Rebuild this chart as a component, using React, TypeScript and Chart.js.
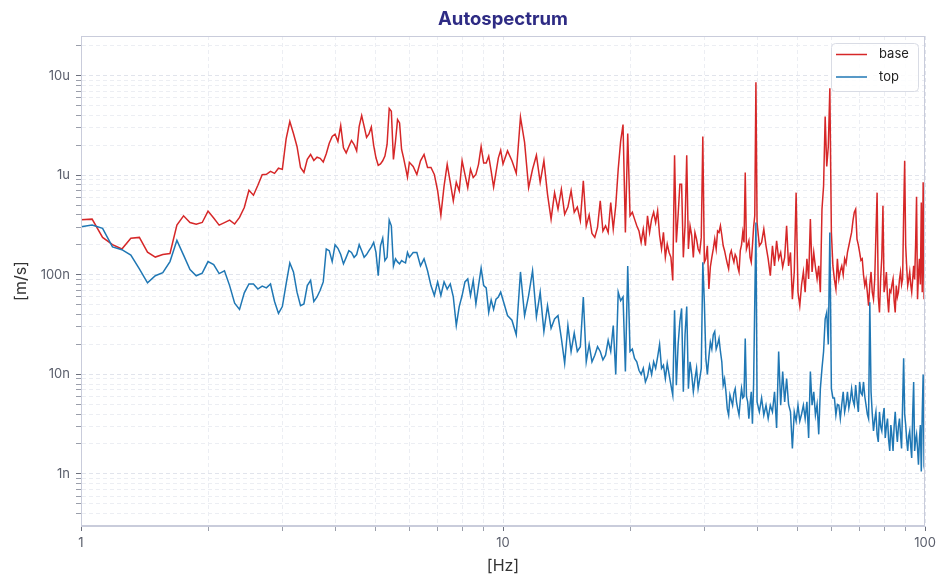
import { useEffect, useRef } from 'react'
import { Chart, registerables } from 'chart.js'

Chart.register(...registerables)

// frequency bins [Hz]
const FREQ = [
  1, 1.0625, 1.125, 1.1875, 1.25, 1.3125, 1.375, 1.4375, 1.5, 1.5625,
  1.625, 1.6875, 1.75, 1.8125, 1.875, 1.9375, 2, 2.0625, 2.125, 2.1875,
  2.25, 2.3125, 2.375, 2.4375, 2.5, 2.5625, 2.625, 2.6875, 2.75, 2.8125,
  2.875, 2.9375, 3, 3.0625, 3.125, 3.1875, 3.25, 3.3125,
  3.375, 3.4375, 3.5, 3.5625, 3.625, 3.6875, 3.75, 3.8125, 3.875, 3.9375,
  4, 4.0625, 4.125, 4.1875, 4.25, 4.3125, 4.375, 4.4375, 4.5, 4.5625,
  4.625, 4.6875, 4.75, 4.8125, 4.875, 4.9375, 5, 5.0625, 5.125, 5.1875,
  5.25, 5.3125, 5.375, 5.4375, 5.5, 5.5625, 5.625, 5.6875, 5.75, 5.8125,
  5.875, 5.9375, 6,
  6.125, 6.25, 6.375, 6.5, 6.625, 6.75, 6.875, 7, 7.125, 7.25,
  7.375, 7.5, 7.625, 7.75, 7.875, 8, 8.125, 8.25, 8.375, 8.5,
  8.625, 8.75, 8.875, 9, 9.125, 9.25, 9.375, 9.5, 9.625, 9.75,
  9.875, 10,
  10.25, 10.5, 10.75, 11, 11.25, 11.5, 11.75, 12, 12.25, 12.5,
  12.75, 13, 13.25, 13.5, 13.75, 14, 14.25, 14.5, 14.75, 15,
  15.25, 15.5, 15.75, 16, 16.25, 16.5, 16.75, 17, 17.25, 17.5,
  17.75, 18, 18.25, 18.5, 18.75, 19, 19.25, 19.5, 19.75, 20,
  20.25, 20.5, 20.75, 21, 21.25, 21.5, 21.75, 22, 22.25, 22.5,
  22.75, 23, 23.25, 23.5, 23.75, 24, 24.25, 24.5, 24.75, 25,
  25.25, 25.5, 25.75, 26, 26.25, 26.5, 26.75, 27, 27.25, 27.5,
  27.75, 28, 28.25, 28.5, 28.75, 29, 29.25, 29.5, 29.75, 30,
  30.25, 30.5, 30.75, 31, 31.25, 31.5, 31.75, 32, 32.25, 32.5,
  32.75, 33, 33.25, 33.5, 33.75, 34, 34.25, 34.5, 34.75, 35,
  35.25, 35.5, 35.75, 36, 36.25, 36.5, 36.75, 37, 37.25, 37.5,
  37.75, 38, 38.25, 38.5, 38.75, 39, 39.25, 39.5, 39.75, 40,
  40.5, 41, 41.5, 42, 42.5, 43, 43.5, 44, 44.5, 45,
  45.5, 46, 46.5, 47, 47.5, 48, 48.5, 49, 49.5, 50,
  50.5, 51, 51.5, 52, 52.5, 53, 53.5, 54, 54.5, 55,
  55.5, 56, 56.5, 57, 57.5, 58, 58.5, 59, 59.5, 60,
  60.5, 61, 61.5, 62, 62.5, 63, 63.5, 64, 64.5, 65,
  65.5, 66, 66.5, 67, 67.5, 68, 68.5, 69, 69.5, 70,
  70.5, 71, 71.5, 72, 72.5, 73, 73.5, 74, 74.5, 75,
  75.5, 76, 76.5, 77, 77.5, 78, 78.5, 79, 79.5, 80,
  80.5, 81, 81.5, 82, 82.5, 83, 83.5, 84, 84.5, 85,
  85.5, 86, 86.5, 87, 87.5, 88, 88.5, 89, 89.5, 90,
  90.5, 91, 91.5, 92, 92.5, 93, 93.5, 94, 94.5, 95,
  95.5, 96, 96.5, 97, 97.5, 98, 98.5, 99, 99.5, 100,
]

// amplitude in nm/s (1000 = 1u)
const BASE = [
  357, 363, 238, 201, 182, 233, 238, 169, 151, 160,
  164, 316, 392, 336, 322, 336, 437, 372, 316, 335,
  355, 324, 378, 475, 708, 631, 794, 1016, 1023, 1096,
  1047, 1180, 1148, 2328, 3467, 2630, 1950, 1200,
  1070, 1445, 1620, 1410, 1520, 1480, 1360, 1650, 2100, 2460,
  2590, 2190, 3160, 1890, 1680, 1950, 2240, 2040, 1760, 3110,
  3980, 3100, 2400, 2600, 3060, 2000, 1500, 1260, 1300, 1400,
  1560, 2040, 4680, 4390, 1445, 2200, 3630, 3360, 1820, 1500,
  1200, 960, 1350,
  1230, 1020, 1400, 1620, 1200, 1200, 1020, 700, 398, 780,
  1290, 850, 555, 850, 700, 1400, 1020, 750, 1150, 950,
  1020, 1290, 1950, 1330, 1330, 1560, 1100, 760, 1070, 1500,
  1790, 1300,
  1760, 1400, 1050, 3850, 2140, 750, 1150, 1590, 850, 1400,
  645, 363, 670, 457, 725, 407, 480, 700, 426, 480,
  350, 880, 311, 400, 260, 238, 300, 555, 276, 311,
  267, 533, 288, 495, 1150, 2190, 3240, 267, 2630, 392,
  426, 363, 311, 276, 212, 288, 196, 392, 267, 363,
  426, 336, 440, 250, 182, 267, 150, 204, 168, 150,
  88, 1590, 212, 400, 813, 813, 150, 311, 1590, 182,
  311, 250, 150, 267, 229, 182, 168, 238, 2460, 134,
  145, 196, 72, 120, 150, 182, 229, 182, 276, 267,
  311, 250, 196, 175, 150, 130, 115, 160, 175, 150,
  134, 160, 150, 120, 107, 175, 200, 267, 212, 1070,
  182, 200, 220, 150, 134, 196, 300, 392, 8600, 336,
  196, 212, 288, 196, 145, 98, 196, 123, 220, 145,
  168, 120, 150, 311, 123, 168, 57, 107, 670, 67,
  49, 80, 107, 67, 145, 91, 363, 107, 168, 120,
  91, 123, 67, 457, 780, 3900, 1230, 1950, 7500, 267,
  123, 90, 72, 145, 91, 110, 123, 100, 145, 130,
  168, 196, 230, 267, 350, 426, 457, 229, 200, 168,
  140, 145, 100, 78, 90, 67, 49, 80, 107, 67,
  57, 90, 250, 670, 60, 42, 91, 150, 495, 67,
  80, 107, 60, 42, 70, 67, 80, 91, 55, 42,
  78, 60, 67, 90, 107, 80, 91, 400, 1400, 196,
  120, 78, 90, 107, 80, 67, 90, 123, 90, 200,
  610, 57, 100, 145, 80, 533, 67, 850, 57, 90,
]

const TOP = [
  304, 316, 293, 191, 179, 158, 115, 83, 98, 105,
  136, 222, 158, 113, 98, 104, 136, 127, 103, 110,
  78, 52, 45, 66, 81, 81, 72, 77, 74, 81,
  54, 41, 48, 81, 132, 107, 67, 49,
  51, 78, 88, 54, 60, 70, 85, 182, 175, 136,
  201, 185, 160, 129, 150, 175, 168, 150, 160, 201,
  175, 150, 160, 175, 190, 212, 168, 98, 196, 234,
  139, 150, 355, 311, 123, 145, 135, 129, 139, 135,
  132, 168, 150,
  168, 168, 123, 145, 110, 78, 62, 85, 62, 85,
  72, 81, 60, 31, 48, 62, 85, 91, 62, 88,
  51, 78, 117, 78, 74, 42, 56, 45, 57, 60,
  67, 56,
  39, 35, 25, 107, 39, 62, 110, 38, 67, 27,
  49, 29, 36, 39, 23, 12.9, 31, 17, 26, 17,
  19, 60, 13.4, 20, 13.4, 15.6, 19, 17, 14, 15.6,
  22, 17, 31, 10, 67, 55, 60, 10.7, 123, 17,
  18, 14.5, 13.4, 11, 10, 11.5, 8.4, 9.5, 12.4, 10,
  13.4, 11.5, 15, 20, 11.5, 12.4, 9.1, 12.9, 10, 7.8,
  6.2, 44, 7.8, 20, 34, 46, 6.7, 25, 48, 7.2,
  13.4, 10, 6.7, 9, 11.5, 7.2, 9, 11.5, 134, 53,
  14.5, 10, 15, 21, 18, 25, 27, 18, 20, 23,
  17, 13.4, 7.8, 9, 6.7, 4.5, 3.9, 6.2, 5.5, 4.9,
  6.5, 7.2, 5.3, 4.5, 3.9, 5.5, 7.2, 5.8, 6, 23,
  6, 5.3, 3.6, 5, 6.7, 3.2, 8, 53, 336, 5.3,
  4.2, 5.8, 3.9, 4.9, 3.6, 4.9, 4.2, 6.7, 2.9, 17,
  4.9, 10.7, 5.3, 9.1, 5, 4.2, 1.8, 4.2, 3.4, 4.9,
  3.4, 4, 4.9, 3.6, 5.3, 2.3, 10.7, 4.9, 6.7, 3.9,
  5, 2.5, 7.2, 11.5, 17, 36, 42, 20, 267, 7.2,
  5.8, 5.8, 3.9, 5, 4.9, 3.6, 5, 6.7, 4.2, 5,
  6.7, 4.6, 5.5, 7.2, 5.5, 4.9, 7.8, 5.5, 4.2, 8.4,
  6.5, 6.2, 8.4, 6, 4.9, 4, 3.6, 53, 6.7, 4,
  2.7, 3.5, 4.2, 2.5, 2.1, 4.2, 3, 2.7, 3.8, 4.6,
  2.3, 3, 3.6, 2.2, 1.7, 3.1, 2.4, 1.7, 3, 4.2,
  2.8, 2.1, 3, 3.6, 2.5, 1.8, 5, 14.5, 4, 3.1,
  2.2, 1.7, 2.4, 2.7, 1.9, 1.45, 4, 8.4, 1.7, 2.2,
  2.5, 1.8, 1.24, 2.2, 3.1, 1.06, 4, 10, 1.2, 1.06,
]

const X_TICKS = [1, 10, 100]
const Y_TICKS = [1, 10, 100, 1000, 10000]
const Y_LABELS = ['1n', '10n', '100n', '1u', '10u']
const MINOR = [1, 2, 3, 4, 5, 6, 7, 8, 9]

const Y_MIN = 0.316
const Y_MAX = 25100

const gridValues = (decades: number[], min: number, max: number) => {
  const out: number[] = []
  decades.forEach(d => MINOR.forEach(m => {
    const v = d * m
    if (v >= min - 1e-9 && v <= max) out.push(v)
  }))
  return out
}

const FRAME = '#c9ccdb'

const framePlugin = {
  id: 'frame',
  afterDatasetsDraw(chart: any) {
    const { ctx, chartArea: a } = chart
    ctx.save()
    ctx.strokeStyle = FRAME
    ctx.lineWidth = 1
    ctx.strokeRect(a.left + 0.5, a.top + 0.5, a.right - a.left - 1, a.bottom - a.top - 1)
    ctx.restore()
  },
}

const legendPlugin = {
  id: 'boxLegend',
  afterDraw(chart: any) {
    const { ctx, chartArea } = chart
    const w = 87, h = 48
    const x = chartArea.right - 7 - w
    const y = chartArea.top + 7
    ctx.save()
    ctx.beginPath()
    ctx.roundRect(x + 0.5, y + 0.5, w, h, 4)
    ctx.fillStyle = 'rgba(255,255,255,0.85)'
    ctx.fill()
    ctx.strokeStyle = '#d9dce5'
    ctx.lineWidth = 1
    ctx.stroke()
    chart.data.datasets.forEach((ds: any, i: number) => {
      const ly = y + 11.5 + i * 22.5
      ctx.beginPath()
      ctx.moveTo(x + 5, ly)
      ctx.lineTo(x + 36, ly)
      ctx.strokeStyle = ds.borderColor
      ctx.lineWidth = 1.5
      ctx.stroke()
      ctx.fillStyle = '#222'
      ctx.font = '13px Inter, "Noto Sans", sans-serif'
      ctx.textBaseline = 'middle'
      ctx.textAlign = 'left'
      ctx.fillText(ds.label, x + 48, ly)
    })
    ctx.restore()
  },
}

export default function App() {
  const canvasRef = useRef<HTMLCanvasElement>(null)
  const chartRef = useRef<Chart | null>(null)

  useEffect(() => {
    if (!canvasRef.current) return
    if (chartRef.current) chartRef.current.destroy()

    Chart.defaults.font.family = 'Inter, "Noto Sans", sans-serif'

    const xGrid = gridValues([1, 10, 100], 1, 100)
    const yGrid = gridValues([0.1, 1, 10, 100, 1000, 10000], Y_MIN, Y_MAX)

    const gridColor = (majors: number[]) => (c: any) =>
      majors.includes(c.tick?.value) ? '#e1e4ec' : '#eceef3'
    const tickColor = (majors: number[]) => (c: any) =>
      majors.includes(c.tick?.value) ? '#6b6f7c' : '#9a9eaa'

    chartRef.current = new Chart(canvasRef.current, {
      type: 'line',
      data: {
        datasets: [
          {
            label: 'base',
            data: FREQ.map((f, i) => ({ x: f, y: BASE[i] })),
            borderColor: '#d62728',
            borderWidth: 1.5,
            pointRadius: 0,
            tension: 0,
            order: 2,
          },
          {
            label: 'top',
            data: FREQ.map((f, i) => ({ x: f, y: TOP[i] })),
            borderColor: '#1f77b4',
            borderWidth: 1.5,
            pointRadius: 0,
            tension: 0,
            order: 1,
          },
        ],
      },
      options: {
        animation: false,
        responsive: true,
        maintainAspectRatio: false,
        events: [],
        layout: { padding: { left: 0, right: 24, top: 0, bottom: 0 } },
        scales: {
          x: {
            type: 'logarithmic',
            min: 1, max: 100,
            afterBuildTicks: (s: any) => { s.ticks = xGrid.map(v => ({ value: v })) },
            afterFit: (s: any) => { s.height = 61 },
            ticks: {
              autoSkip: false, maxRotation: 0, padding: 4,
              color: '#5a5e6b', font: { size: 13 },
              callback: (v: any) => (X_TICKS.includes(v) ? String(v) : ''),
            },
            grid: { color: gridColor(X_TICKS), tickColor: tickColor(X_TICKS), tickLength: 5, tickBorderDash: [] },
            border: { color: FRAME, dash: [4, 3] },
            title: { display: true, text: '[Hz]', color: '#333', font: { size: 16 }, padding: { top: 0, bottom: 11 } },
          },
          y: {
            type: 'logarithmic',
            min: Y_MIN, max: Y_MAX,
            afterBuildTicks: (s: any) => { s.ticks = yGrid.map(v => ({ value: v })) },
            afterFit: (s: any) => { s.width = 81 },
            ticks: {
              autoSkip: false, padding: 6,
              color: '#5a5e6b', font: { size: 13 },
              callback: (v: any) => {
                const k = Y_TICKS.indexOf(v)
                return k >= 0 ? Y_LABELS[k] : ''
              },
            },
            grid: { color: gridColor(Y_TICKS), tickColor: tickColor(Y_TICKS), tickLength: 5, tickBorderDash: [] },
            border: { color: FRAME, dash: [4, 3] },
            title: { display: true, text: '[m/s]', color: '#333', font: { size: 16 }, padding: { top: 12, bottom: 0 } },
          },
        },
        plugins: {
          legend: { display: false },
          tooltip: { enabled: false },
          title: {
            display: true,
            fullSize: false,
            text: 'Autospectrum',
            color: '#2e2b84',
            font: { size: 18.5, weight: 'bold' },
            padding: { top: 8.4, bottom: 5.4 },
          },
        },
      },
      plugins: [framePlugin, legendPlugin],
    } as any)

    return () => { chartRef.current?.destroy() }
  }, [])

  return (
    <div style={{ position: 'fixed', left: 0, top: 0, width: 949, height: 587, background: '#fff' }}>
      <canvas ref={canvasRef} />
    </div>
  )
}
